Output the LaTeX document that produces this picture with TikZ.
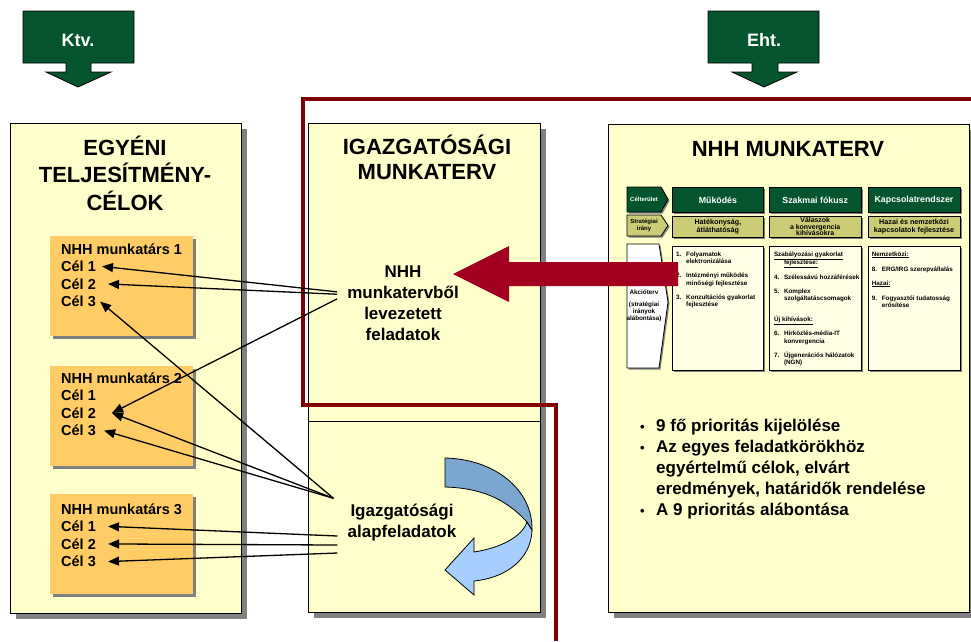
\documentclass[tikz,border=0pt]{standalone}
\usepackage{fontspec}
\setmainfont{Liberation Sans}
\usetikzlibrary{positioning,calc,arrows.meta,shadows}

\definecolor{lawgreen}{RGB}{4,85,45}
\definecolor{dirolive}{RGB}{204,204,119}
\definecolor{paper}{RGB}{255,255,204}
\definecolor{staffcol}{RGB}{255,204,102}
\definecolor{shadowgrey}{RGB}{128,128,128}
\definecolor{linered}{RGB}{128,0,0}
\definecolor{arrowred}{RGB}{163,0,33}
\definecolor{bluedark}{RGB}{122,166,208}
\definecolor{bluelight}{RGB}{166,206,255}

\tikzset{
  shadowbig/.style={drop shadow={shadow xshift=5pt,shadow yshift=-5pt,fill=shadowgrey,opacity=1}},
  shadowmid/.style={drop shadow={shadow xshift=3pt,shadow yshift=-3pt,fill=shadowgrey,opacity=1}},
  shadowsmall/.style={drop shadow={shadow xshift=1.5pt,shadow yshift=-1.5pt,fill=shadowgrey,opacity=1}},
  panel/.style={draw=black,line width=1.2pt,fill=paper,anchor=north west,inner sep=0pt,shadowbig},
  staffbox/.style={fill=staffcol,anchor=north west,inner sep=0pt,minimum width=143pt,minimum height=100pt,shadowmid},
  bigtitle/.style={align=center,inner sep=0pt,font=\bfseries\fontsize{22}{27.5}\selectfont},
  midtext/.style={align=center,inner xsep=10pt,inner ysep=0pt,font=\bfseries\fontsize{17}{21}\selectfont},
  stafftext/.style={anchor=base west,inner sep=0pt,font=\bfseries\fontsize{14.5}{17}\selectfont},
  goal/.style={-{Triangle[length=11pt,width=9pt]},line width=1.3pt},
  hdrbox/.style={draw=black,line width=0.8pt,fill=lawgreen,text=white,anchor=north west,minimum height=25pt,inner sep=0pt,font=\bfseries\fontsize{8.8}{11}\selectfont,shadowsmall},
  dirbox/.style={draw=black,line width=0.8pt,fill=dirolive,anchor=north west,minimum height=21pt,inner sep=0pt,align=center,font=\bfseries\fontsize{7.2}{8.6}\selectfont,shadowsmall},
  actbox/.style={draw=black,line width=0.8pt,fill=paper!50!white,anchor=north west,minimum height=124pt,inner sep=0pt,shadowsmall},
  acttext/.style={anchor=north west,inner sep=0pt,align=left,font=\bfseries\fontsize{6.3}{7.5}\selectfont},
  tag/.style={inner sep=0pt,align=center,font=\bfseries\fontsize{6}{7}\selectfont},
}

\begin{document}
\begin{tikzpicture}[x=1pt,y=-1pt]
\useasboundingbox (0,0) rectangle (971,641);

% law arrows
\fill[lawgreen,draw=black,line width=0.8pt] (23,11) -- (134,11) -- (134,63) -- (91,63) -- (91,72) -- (111,72)
  -- (78,87) -- (46,72) -- (66,72) -- (66,63) -- (23,63) -- cycle;
\node[text=white,font=\bfseries\fontsize{18}{20}\selectfont] (ktv) at (78,40) {Ktv.};
\fill[lawgreen,draw=black,line width=0.8pt] (708,11) -- (819,11) -- (819,63) -- (778,63) -- (778,72) -- (797,72)
  -- (764,87) -- (732,72) -- (752,72) -- (752,63) -- (708,63) -- cycle;
\node[text=white,font=\bfseries\fontsize{18}{20}\selectfont] (eht) at (764,40) {Eht.};

% panels
\node[panel,minimum width=231pt,minimum height=490pt] (egyeni) at (10,123) {};
\node[panel,minimum width=232pt,minimum height=489pt] (igmt) at (308,123) {};
\node[panel,minimum width=361pt,minimum height=488pt] (nhhmt) at (608,124) {};
\draw[line width=1pt] ([yshift=-298pt]igmt.north west) -- ([yshift=-298pt]igmt.north east);

\node[bigtitle] (egytitle) at (125,173) {EGYÉNI\\TELJESÍTMÉNY-\\CÉLOK};
\node[bigtitle,font=\bfseries\fontsize{22}{25}\selectfont] (igtitle) at (427,157) {IGAZGATÓSÁGI\\MUNKATERV};
\node[bigtitle] (nhhtitle) at (788,149) {NHH MUNKATERV};

% staff boxes
\foreach \b/\y in {1/236,2/366,3/494}
  \node[staffbox] (staff\b) at (50,\y) {};
\foreach \b/\y in {1/254,2/383,3/514} {
  \node[stafftext] (head\b) at (61,\y) {NHH munkatárs \b};
  \foreach \c in {1,2,3}
    \node[stafftext] (cel\b\c) at ([yshift={-17.6*\c}]head\b.base west) {Cél \c};
}

% table: row 1
\draw[fill=lawgreen,line width=0.8pt,shadowsmall] (627,187) -- (661,187) -- (668,199.5) -- (661,212) -- (627,212) -- cycle;
\node[tag,text=white] (celter) at (644,199.5) {Célterület};
\node[hdrbox,minimum width=91pt] (mukodes) at (672,187) {Működés};
\node[hdrbox,minimum width=92pt,right=5pt of mukodes] (szakmai) {Szakmai fókusz};
\node[hdrbox,minimum width=92pt,right=6pt of szakmai] (kapcs) {Kapcsolatrendszer};
% row 2
\draw[fill=dirolive,line width=0.8pt,shadowsmall] (627,215) -- (661,215) -- (668,225.5) -- (661,236) -- (627,236) -- cycle;
\node[tag] (strat) at (644,225.5) {Stratégiai\\irány};
\node[dirbox,minimum width=91pt,below=3pt of mukodes] (hatek) {Hatékonyság,\\átláthatóság};
\node[dirbox,minimum width=92pt,below=3pt of szakmai,font=\bfseries\fontsize{6.9}{6.6}\selectfont] (valasz) {Válaszok\\a konvergencia\\kihívásokra};
\node[dirbox,minimum width=92pt,below=3pt of kapcs] (hazai) {Hazai és nemzetközi\\kapcsolatok fejlesztése};
% row 3
\draw[fill=white,line width=0.8pt,shadowsmall] (627,244) -- (659,244) -- (668,302) -- (659,368) -- (627,368) -- cycle;
\node[tag,font=\bfseries\fontsize{6.3}{7}\selectfont] (akcio) at (644,306) {Akcióterv\\[5pt](stratégiai\\irányok\\alábontása)};
\node[actbox,minimum width=91pt,below=8pt of hatek] (actA) {};
\node[actbox,minimum width=92pt] (actB) at (actA.north west -| szakmai.west) {};
\node[actbox,minimum width=92pt] (actC) at (actA.north west -| kapcs.west) {};

\node[acttext] (listA) at ([xshift=4pt,yshift=-5pt]actA.north west) {%
\begin{tabular}{@{}p{10pt}@{}l@{}}
1. & Folyamatok\\ & elektronizálása\\[6.5pt]
2. & Intézményi működés\\ & minőségi fejlesztése\\[6.5pt]
3. & Konzultációs gyakorlat\\ & fejlesztése
\end{tabular}};
\node[acttext] (listB) at ([xshift=5pt,yshift=-5pt]actB.north west) {%
\begin{tabular}{@{}p{10pt}@{}l@{}}
\multicolumn{2}{@{}l@{}}{\underline{Szabályozási gyakorlat}}\\
 & \underline{fejlesztése:}\\[7pt]
4. & Szélessávú hozzáférések\\[6.5pt]
5. & Komplex\\ & szolgáltatáscsomagok\\[13.5pt]
\multicolumn{2}{@{}l@{}}{\underline{Új kihívások:}}\\[6.5pt]
6. & Hírközlés-média-IT\\ & konvergencia\\[6pt]
7. & Újgenerációs hálózatok\\ & (NGN)
\end{tabular}};
\node[acttext] (listC) at ([xshift=4pt,yshift=-5pt]actC.north west) {%
\begin{tabular}{@{}p{10pt}@{}l@{}}
\multicolumn{2}{@{}l@{}}{\underline{Nemzetközi:}}\\[7.5pt]
8. & ERG/IRG szerepvállalás\\[6.5pt]
\multicolumn{2}{@{}l@{}}{\underline{Hazai:}}\\[7.5pt]
9. & Fogyasztói tudatosság\\ & erősítése
\end{tabular}};

% priorities
\node[anchor=north west,inner sep=0pt,font=\bfseries\fontsize{17}{21}\selectfont] (prio) at (640,417) {%
\begin{tabular}{@{}p{16pt}@{}l@{}}
{\fontsize{13}{13}\selectfont\textbullet} & 9 fő prioritás kijelölése\\
{\fontsize{13}{13}\selectfont\textbullet} & Az egyes feladatkörökhöz\\
 & egyértelmű célok, elvárt\\
 & eredmények, határidők rendelése\\
{\fontsize{13}{13}\selectfont\textbullet} & A 9 prioritás alábontása
\end{tabular}};

% scope line
\draw[linered,line width=3.2pt] (971,99) -- (303,99) -- (303,405) -- (556,405) -- (556,641);

% derived tasks arrow
\fill[arrowred] (678,262) -- (509,262) -- (509,246) -- (453,274) -- (509,302) -- (509,286) -- (678,286) -- cycle;

\node[midtext] (feladat) at (403,303.5) {NHH\\munkatervből\\levezetett\\feladatok};
\node[midtext] (alap) at (402,523) {Igazgatósági\\alapfeladatok};

% curved arrow
\draw[fill=bluelight,line width=0.8pt] (532,530) .. controls (531,560) and (505,578) .. (474,581) -- (474,595) -- (445,570)
  -- (474,538) -- (474,552) .. controls (500,548) and (522,537) .. (527,522) -- cycle;
\draw[fill=bluedark,line width=0.8pt] (445,458) .. controls (495,459) and (533,490) .. (532,530) -- (527,522)
  .. controls (505,498) and (480,488) .. (445,487) -- cycle;

% goals
\draw[goal] (feladat.170) -- ([xshift=6pt]cel11.east);
\draw[goal] (feladat.172) -- ([xshift=12pt]cel12.east);
\draw[goal] (feladat.176) -- ([xshift=16pt]cel22.east);
\draw[goal] ([xshift=-4pt,yshift=6pt]alap.north west) -- ([xshift=4pt]cel13.east);
\draw[goal] ([xshift=-4pt,yshift=6pt]alap.north west) -- ([xshift=16pt]cel22.east);
\draw[goal] ([xshift=-4pt,yshift=6pt]alap.north west) -- ([xshift=8pt]cel23.east);
\draw[goal] ([yshift=-13pt]alap.west) -- ([xshift=12pt]cel31.east);
\draw[goal] ([yshift=-22pt]alap.west) -- ([xshift=12pt]cel32.east);
\draw[goal] ([yshift=-30pt]alap.west) -- ([xshift=12pt]cel33.east);
\end{tikzpicture}
\end{document}
